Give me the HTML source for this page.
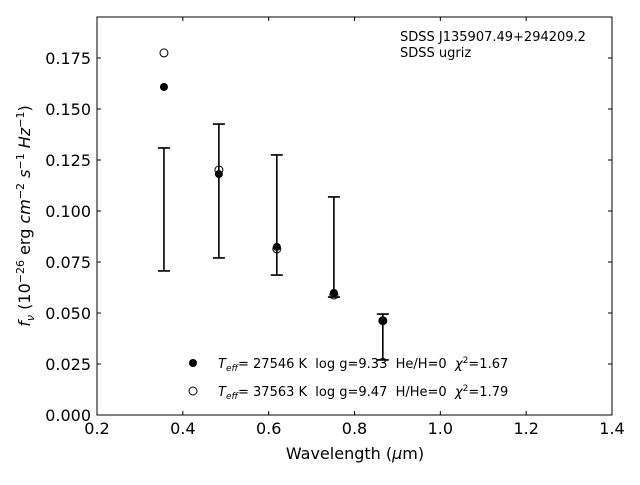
<!DOCTYPE html>
<html><head><meta charset="utf-8"><style>
body{margin:0;background:#fff;}
svg{font-family:"DejaVu Sans","Liberation Sans",sans-serif;}
text{white-space:pre;}
</style></head><body>
<svg id="chart" width="640" height="480" viewBox="0 0 640 480">
<rect x="0" y="0" width="640" height="480" fill="#fff"/>
<g id="marks"></g>
<g id="axes"></g>
<text x="400" y="41" font-size="13">SDSS J135907.49+294209.2</text>
<text x="400" y="57" font-size="13">SDSS ugriz</text>
<g>
<circle cx="193" cy="363" r="4" fill="#000"/>
<text x="218" y="368" font-size="13" xml:space="preserve"><tspan font-style="italic">T</tspan><tspan font-style="italic" font-size="9" dy="3">eff</tspan><tspan dy="-3">= 27546 K  log g=9.33  He/H=0  </tspan><tspan font-style="italic">χ</tspan><tspan font-size="9" dy="-5">2</tspan><tspan dy="5">=1.67</tspan></text>
<circle cx="193" cy="391" r="4" fill="#fff" stroke="#000" stroke-width="1"/>
<text x="218" y="396" font-size="13" xml:space="preserve"><tspan font-style="italic">T</tspan><tspan font-style="italic" font-size="9" dy="3">eff</tspan><tspan dy="-3">= 37563 K  log g=9.47  H/He=0  </tspan><tspan font-style="italic">χ</tspan><tspan font-size="9" dy="-5">2</tspan><tspan dy="5">=1.79</tspan></text>
</g>
<text x="355" y="459" font-size="16" text-anchor="middle">Wavelength (<tspan font-style="italic">μ</tspan>m)</text>
<text transform="translate(30,216) rotate(-90)" font-size="16" text-anchor="middle" xml:space="preserve"><tspan font-style="italic">f</tspan><tspan font-style="italic" font-size="11" dy="4">ν</tspan><tspan dy="-4"> (10</tspan><tspan font-size="11" dy="-6">−26</tspan><tspan dy="6"> erg </tspan><tspan font-style="italic">cm</tspan><tspan font-size="11" dy="-6">−2</tspan><tspan dy="6"> </tspan><tspan font-style="italic">s</tspan><tspan font-size="11" dy="-6">−1</tspan><tspan dy="6"> </tspan><tspan font-style="italic">Hz</tspan><tspan font-size="11" dy="-6">−1</tspan><tspan dy="6">)</tspan></text>
</svg>
<script>
const wavelengths=[0.356,0.484,0.619,0.752,0.866];
const obsLow=[0.0706,0.077,0.0686,0.0578,0.027];
const obsHigh=[0.1309,0.1426,0.1275,0.1069,0.0495];
const modelHe=[0.1608,0.1181,0.0824,0.0598,0.0461];
const modelH=[0.1775,0.1201,0.0814,0.0588,0.0462];
const xTicks=[0.2,0.4,0.6,0.8,1.0,1.2,1.4];
const xTickLabels=["0.2","0.4","0.6","0.8","1.0","1.2","1.4"];
const yTicks=[0,0.025,0.05,0.075,0.1,0.125,0.15,0.175];
const yTickLabels=["0.000","0.025","0.050","0.075","0.100","0.125","0.150","0.175"];
const L=97,R=612,T=17,B=415,xMin=0.2,xMax=1.4,yMin=0,yMax=0.1951;
const NS="http://www.w3.org/2000/svg";
function xs(v){return L+(v-xMin)/(xMax-xMin)*(R-L);}
function ys(v){return B-(v-yMin)/(yMax-yMin)*(B-T);}
function mk(tag,attrs,parent){const e=document.createElementNS(NS,tag);for(const k in attrs)e.setAttribute(k,attrs[k]);parent.appendChild(e);return e;}
const marks=document.getElementById('marks'),axes=document.getElementById('axes');
wavelengths.forEach((w,i)=>{
  const x=xs(w);
  const eb=mk('path',{d:`M${x},${ys(obsLow[i])}V${ys(obsHigh[i])}M${x-6},${ys(obsLow[i])}H${x+6}M${x-6},${ys(obsHigh[i])}H${x+6}`,stroke:'#000','stroke-width':1.6,fill:'none'},marks);
  
  
  const c1=mk('circle',{cx:x,cy:ys(modelHe[i]),r:4,fill:'#000'},marks);
  
  
  const c2=mk('circle',{cx:x,cy:ys(modelH[i]),r:4,fill:'none',stroke:'#000','stroke-width':1},marks);
  
  
});
const frame=mk('rect',{x:L,y:T,width:R-L,height:B-T,fill:'none',stroke:'#000','stroke-width':1},axes);


xTicks.forEach((t,i)=>{
  const x=xs(t);
  mk('path',{d:`M${x},${B}v-4M${x},${T}v4`,stroke:'#000'},axes);
  const tx=mk('text',{x:x,y:B+19,'font-size':16,'text-anchor':'middle'},axes);
  tx.textContent=xTickLabels[i];
  
  
});
yTicks.forEach((t,i)=>{
  const y=ys(t);
  mk('path',{d:`M${L},${y}h4M${R},${y}h-4`,stroke:'#000'},axes);
  const tx=mk('text',{x:L-6,y:y+6,'font-size':16,'text-anchor':'end'},axes);
  tx.textContent=yTickLabels[i];
  
  
});
</script>
</body></html>
